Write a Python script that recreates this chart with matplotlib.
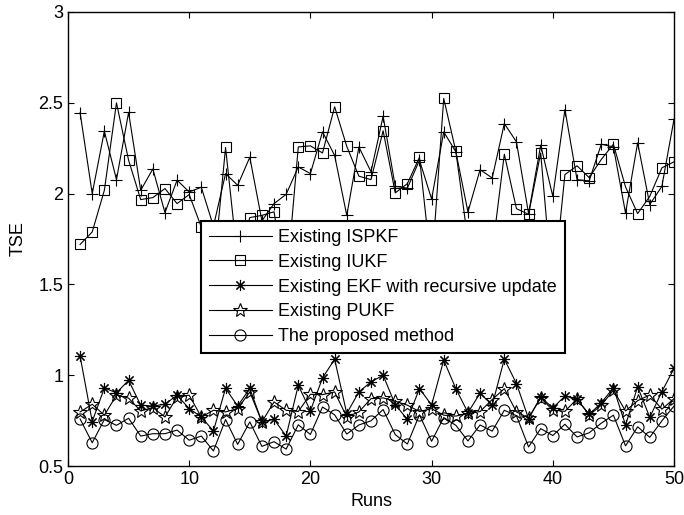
import matplotlib
matplotlib.use("Agg")
import matplotlib.pyplot as plt
import numpy as np

plt.rcParams['font.family'] = ['Liberation Sans', 'DejaVu Sans']

runs = list(range(1, 51))

ispkf = [2.445, 2.000, 2.344, 2.077, 2.447, 2.018, 2.136, 1.895, 2.074, 2.009,
         2.035, 1.820, 2.110, 2.046, 2.200, 1.850, 1.945, 1.996, 2.147, 2.110,
         2.340, 2.210, 1.880, 2.257, 2.120, 2.426, 2.040, 2.030, 2.184, 1.970,
         2.340, 2.230, 1.899, 2.132, 2.086, 2.386, 2.285, 1.890, 2.267, 1.985,
         2.463, 2.077, 2.070, 2.272, 2.257, 1.893, 2.280, 1.940, 2.040, 2.410]

iukf = [1.720, 1.789, 2.018, 2.500, 2.184, 1.967, 1.978, 2.028, 1.945, 1.995,
        1.816, 1.560, 2.254, 1.630, 1.868, 1.880, 1.900, 1.490, 2.257, 2.263,
        2.224, 2.478, 2.260, 2.096, 2.077, 2.346, 2.004, 2.055, 2.200, 1.580,
        2.524, 2.233, 1.740, 1.600, 1.680, 2.217, 1.917, 1.886, 2.224, 1.450,
        2.105, 2.153, 2.088, 2.188, 2.272, 2.037, 1.890, 1.985, 2.142, 2.175]

ekf = [1.105, 0.745, 0.930, 0.903, 0.972, 0.835, 0.830, 0.840, 0.890, 0.816,
       0.770, 0.693, 0.928, 0.830, 0.928, 0.742, 0.757, 0.665, 0.945, 0.804,
       0.985, 1.088, 0.789, 0.908, 0.963, 1.000, 0.838, 0.757, 0.926, 0.836,
       1.083, 0.926, 0.794, 0.901, 0.835, 1.089, 0.954, 0.761, 0.880, 0.820,
       0.885, 0.868, 0.784, 0.848, 0.931, 0.726, 0.936, 0.768, 0.910, 1.037]

pukf = [0.798, 0.840, 0.780, 0.890, 0.874, 0.803, 0.822, 0.770, 0.880, 0.890,
        0.770, 0.807, 0.798, 0.816, 0.908, 0.743, 0.853, 0.807, 0.800, 0.895,
        0.893, 0.908, 0.770, 0.798, 0.871, 0.875, 0.857, 0.835, 0.800, 0.816,
        0.780, 0.775, 0.790, 0.800, 0.866, 0.926, 0.798, 0.765, 0.875, 0.808,
        0.801, 0.870, 0.780, 0.835, 0.918, 0.803, 0.860, 0.891, 0.813, 0.871]

proposed = [0.759, 0.628, 0.756, 0.724, 0.763, 0.665, 0.678, 0.678, 0.698, 0.642,
            0.665, 0.583, 0.756, 0.619, 0.743, 0.608, 0.634, 0.593, 0.727, 0.674,
            0.825, 0.782, 0.676, 0.726, 0.749, 0.811, 0.673, 0.621, 0.782, 0.636,
            0.767, 0.724, 0.638, 0.726, 0.692, 0.807, 0.777, 0.605, 0.706, 0.668,
            0.730, 0.660, 0.683, 0.736, 0.780, 0.611, 0.716, 0.658, 0.749, 0.830]

labels = ["Existing ISPKF", "Existing IUKF", "Existing EKF with recursive update",
          "Existing PUKF", "The proposed method"]

fig = plt.figure(figsize=(6.84, 5.15), dpi=100)
ax = fig.add_axes([0.0994, 0.0951, 0.886, 0.8816])

lw = 0.8
ax.plot(runs, ispkf, color='black', lw=lw, marker='+', markersize=9, mew=0.8, label=labels[0])
ax.plot(runs, iukf, color='black', lw=lw, marker='s', markersize=7, mfc='none', mew=0.8, label=labels[1])
ax.plot(runs, ekf, color='black', lw=lw, marker=(8, 2, 0), markersize=8, mew=0.8, label=labels[2])
ax.plot(runs, pukf, color='black', lw=lw, marker='*', markersize=10, mfc='none', mew=0.8, label=labels[3])
ax.plot(runs, proposed, color='black', lw=lw, marker='o', markersize=8, mfc='none', mew=0.8, label=labels[4])

ax.set_xlim(0, 50)
ax.set_ylim(0.5, 3)
ax.set_xticks([0, 10, 20, 30, 40, 50])
ax.set_yticks([0.5, 1, 1.5, 2, 2.5, 3])
ax.set_yticklabels(["0.5", "1", "1.5", "2", "2.5", "3"])
ax.tick_params(direction='in', top=True, right=True, labelsize=13, length=4, width=0.8)
for s in ax.spines.values():
    s.set_linewidth(1.0)

ax.set_xlabel("Runs", fontsize=13, labelpad=4)
ax.set_ylabel("TSE", fontsize=13, labelpad=8)

leg = ax.legend(loc='upper left', bbox_to_anchor=(0.219, 0.540), borderaxespad=0,
                fontsize=13, handlelength=3.5, frameon=True, fancybox=False,
                edgecolor='black', framealpha=1, labelspacing=0.43, borderpad=0.45,
                handletextpad=0.35)
leg.get_frame().set_linewidth(1.5)

fig.savefig("out.png", dpi=100)
